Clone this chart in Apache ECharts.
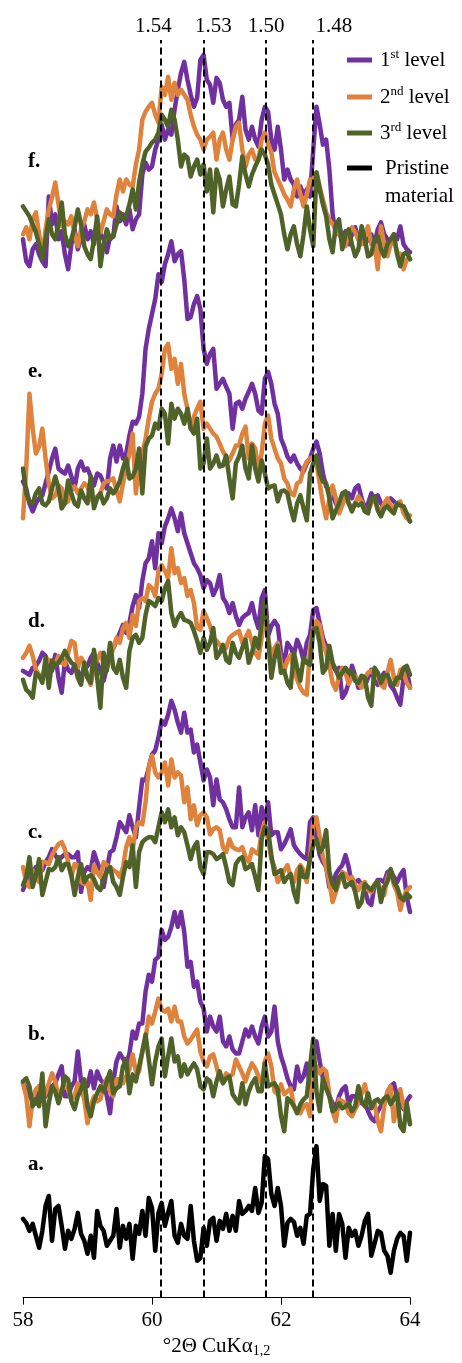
<!DOCTYPE html>
<html>
<head>
<meta charset="utf-8">
<script src="https://cdn.jsdelivr.net/npm/echarts@6/dist/echarts.min.js"></script>
<style>
  html, body { margin: 0; padding: 0; background: #fff; }
  #chart { width: 462px; height: 1363px; }
</style>
</head>
<body>
<div id="chart"></div>
<script>
// sampling grid, 0.05 deg steps from 58 to 64
const twoTheta = [];
for (let i = 0; i <= 120; i++) twoTheta.push(+(58 + i * 0.05).toFixed(2));

const panelLabels = ['a.', 'b.', 'c.', 'd.', 'e.', 'f.'];
const panelOffsets = [22, 160, 384, 590, 777, 1032];
const dSpacings = ['1.54', '1.53', '1.50', '1.48'];
const dLinePos = [60.14, 60.81, 61.76, 62.49];
const dLabelPos = [60.02, 60.95, 61.77, 62.82];
const levelNames = ['1st level', '2nd level', '3rd level'];
const xTicks = [58, 60, 62, 64];

// a. pristine material
const pristine = [57,53,45,52,40,28,45,70,80,35, 67,70,50,27,45,37,47,63,42,35, 22,40,18,65,50,45,30,35,40,67,
  28,50,37,52,17,50,42,65,40,78, 68,25,63,73,50,63,75,40,33,52, 40,37,70,35,15,18,48,30,55,58,
  35,55,47,62,45,60,45,75,62,65, 70,65,88,63,73,120,117,82,70,88, 70,30,53,57,54,40,48,32,60,62,
  107,130,75,92,90,30,62,25,62,52, 18,48,40,45,30,40,55,62,20,32, 45,43,25,20,3,25,37,43,40,15, 43];

// b.
const b1 = [55,49,42,39,35,52,47,42,49,52, 55,64,72,42,42,52,57,87,57,52, 52,67,50,67,59,55,42,25,57,77,
  85,80,74,85,107,100,115,115,147,164, 157,179,182,209,199,202,212,227,212,227, 207,172,177,152,157,137,130,107,122,112,
  107,122,97,92,102,89,85,85,97,109, 102,112,102,95,112,122,102,107,132,97, 82,72,60,52,49,72,57,62,75,52,
  82,97,77,60,52,42,35,30,42,49, 52,34,42,42,37,35,35,27,20,17, 27,32,35,45,52,55,42,35,29,37,42];
const b2 = [55,42,12,39,49,52,37,45,55,65, 57,42,49,52,49,39,42,55,49,39, 15,32,42,37,39,52,60,47,42,59,
  59,55,62,69,84,67,67,87,100,122, 115,127,140,129,127,130,117,132,117,117, 102,95,99,104,109,87,77,72,82,84,
  72,59,57,65,62,64,79,72,65,57, 67,75,70,62,55,77,85,72,47,44, 54,44,47,50,32,27,25,32,34,22,
  67,72,65,70,67,44,27,17,39,37, 35,25,22,29,35,45,54,39,34,35, 17,7,32,47,52,17,32,49,32,25,15];
const b3 = [57,60,52,32,39,32,65,12,35,52, 47,35,47,62,59,37,29,42,49,59, 32,22,37,45,52,47,57,67,45,50,
  52,72,79,45,64,57,72,87,104,79, 54,77,92,100,62,82,100,77,82,62, 74,64,70,75,69,52,49,60,57,42,
  57,67,55,60,62,44,39,35,55,34, 47,55,60,47,47,75,52,54,55,49, 22,7,40,37,32,25,34,39,42,72,
  100,47,27,60,50,42,27,30,35,30, 32,35,27,32,52,37,32,45,30,37, 39,35,40,42,34,39,45,12,7,35,14];

// c.
const c1 = [25,33,38,43,48,46,45,53,58,66, 60,55,58,61,61,58,58,63,23,43, 48,45,63,53,45,28,46,63,65,78,
  93,88,83,100,88,78,108,136,135,148, 161,165,178,195,191,201,215,206,193,183, 203,183,186,163,171,153,135,146,138,110,
  136,116,113,106,96,88,88,128,88,98, 103,85,110,80,108,93,113,80,83,83, 66,71,78,86,70,65,61,58,56,93,
  98,78,60,53,48,28,28,41,46,50, 60,48,30,33,35,30,26,13,10,30, 35,35,33,43,45,38,33,40,45,18,3];
const c2 = [48,33,28,45,38,33,53,53,51,60, 66,71,73,66,53,38,51,50,33,31, 33,15,50,43,38,53,50,48,45,43,
  38,48,68,78,65,88,93,91,113,148, 160,143,138,143,153,130,156,138,143,140, 113,128,96,110,90,100,103,98,81,86,
  88,85,68,63,76,68,66,65,68,58, 53,66,63,61,83,93,75,56,48,33, 38,45,50,38,33,45,50,45,33,58,
  93,98,78,58,48,33,13,23,33,43, 41,36,38,30,25,31,33,25,23,30, 33,25,20,38,45,30,23,5,18,25,28];
const c3 = [30,38,58,28,40,56,20,33,46,45, 48,58,45,51,51,40,20,38,51,33, 38,40,36,28,25,36,43,48,33,28,
  20,38,53,48,70,28,63,73,76,78, 78,73,88,103,93,106,88,98,80,88, 83,70,56,68,73,48,41,63,63,61,
  56,58,61,48,33,30,51,56,58,46, 48,51,38,25,76,88,85,60,41,43, 45,33,38,41,23,13,48,38,38,56,
  70,76,63,68,85,43,31,25,38,41, 28,31,33,23,8,13,31,28,25,30, 33,13,28,33,46,33,28,18,15,21,18];

// d.
const d1 = [39,37,35,42,44,49,57,54,44,39, 55,32,17,49,40,37,45,39,32,40, 44,52,57,47,39,29,42,55,62,69,
  77,85,77,87,104,115,102,129,147,152, 169,142,177,167,184,192,202,192,179,197, 177,167,157,147,142,135,122,130,127,115,
  122,135,112,107,97,107,94,85,92,95, 97,107,92,82,112,120,74,84,89,84, 57,47,67,62,55,70,62,49,67,75,
  100,102,87,72,64,55,44,39,42,12, 17,27,44,34,22,27,24,32,40,29, 25,32,37,35,24,20,12,5,32,40,22];
const d2 = [52,57,64,54,40,35,32,45,50,49, 45,54,47,45,57,69,67,42,52,47, 32,25,42,50,57,47,42,50,62,72,
  67,82,87,72,95,84,109,112,109,125, 122,114,139,145,139,132,162,137,142,127, 132,114,120,107,82,80,99,92,84,72,
  69,65,64,62,72,75,77,79,67,72, 79,67,57,52,72,95,72,54,62,67, 47,39,50,55,40,30,22,17,15,62,
  82,89,85,67,57,44,27,20,34,42, 37,26,32,34,27,22,32,37,39,35, 34,25,22,37,50,32,25,40,37,27,22];
const d3 = [30,20,17,12,37,34,27,52,22,49, 45,47,52,59,52,47,45,32,25,47, 32,27,60,32,2,57,39,67,42,37,
  50,32,22,59,72,75,67,72,95,109, 107,104,112,109,122,129,97,84,92,97, 90,89,87,79,69,57,72,60,67,82,
  52,57,65,50,47,67,57,52,62,70, 47,57,72,62,87,109,72,32,52,64, 37,39,27,22,57,42,29,52,47,45,
  80,82,67,37,42,64,47,40,32,37, 42,37,39,29,27,34,32,12,4,42, 37,27,34,35,27,25,32,32,42,44,35];

// e.
const e1 = [42,35,20,12,20,25,28,40,52,65, 75,55,52,50,58,47,35,55,62,53, 55,47,38,50,48,40,35,65,78,62,
  78,65,70,88,102,100,107,130,175,195, 210,225,250,242,260,270,283,263,270,273, 245,205,207,220,228,215,175,160,170,175,
  135,140,145,137,130,95,120,122,115,125, 132,140,130,113,110,145,152,140,120,110, 85,77,67,62,68,60,55,52,60,65,
  75,82,70,50,37,33,28,20,13,20, 25,30,25,35,38,25,15,20,30,25, 28,20,15,20,25,22,18,20,13,7,2];
const e2 = [5,55,130,95,70,77,95,65,40,25, 28,38,35,20,22,33,37,30,35,40, 37,25,20,27,30,40,42,43,45,33,
  22,40,55,70,90,30,60,70,85,105, 122,130,135,150,175,180,155,165,140,160, 130,115,95,107,115,122,95,100,95,90,
  87,80,72,67,63,70,78,78,90,97, 65,80,75,55,70,100,108,85,75,65, 60,45,40,30,28,40,42,55,62,65,
  67,60,40,20,5,25,38,25,10,18, 28,20,15,20,27,22,12,13,20,25, 15,12,20,25,18,15,20,22,10,5,8];
const e3 = [55,30,22,20,30,35,20,18,22,35, 47,35,15,20,43,30,20,17,33,25, 20,47,15,25,30,20,25,35,30,35,
  42,55,65,45,47,55,75,30,77,85, 88,100,95,115,110,80,120,105,115,110, 100,115,95,90,105,55,60,85,55,60,
  68,57,58,68,45,25,60,67,78,55, 45,78,55,42,63,50,35,37,38,22, 32,33,30,15,3,20,28,15,3,50,
  60,68,50,42,40,25,5,13,20,30, 32,20,12,20,18,20,12,10,25,27, 13,7,15,17,13,10,20,18,17,10,2];

// f.
const f1 = [30,8,3,20,25,15,8,3,73,45, 55,30,38,15,0,25,40,20,32,45, 30,38,25,45,35,30,17,33,33,63,
  48,55,45,60,40,50,55,95,107,100, 103,120,130,145,130,140,135,160,180,197, 208,190,175,163,172,210,215,190,185,167,
  192,187,170,163,167,130,145,150,173,140, 130,143,130,123,150,163,158,130,120,143, 120,90,100,90,85,73,83,75,80,73,
  120,163,145,125,130,100,55,35,45,30, 38,25,35,42,30,38,25,30,35,25, 40,47,35,30,25,35,30,43,25,20,17];
const f2 = [35,42,30,50,57,35,13,40,60,72, 87,65,43,48,45,53,35,23,40,48, 60,55,67,50,37,48,60,55,53,75,
  90,78,90,85,83,105,120,150,158,163, 167,155,147,183,175,193,170,187,175,180, 175,170,155,143,135,130,120,130,133,137,
  110,130,137,120,110,130,143,147,120,103, 115,120,110,110,130,137,125,117,97,90, 83,75,70,63,80,90,75,63,75,90,
  90,97,83,70,57,50,45,43,35,30, 23,35,42,37,30,25,35,43,25,25, 0,43,25,13,25,30,17,15,0,10,10];
const f3 = [63,58,53,45,37,25,10,30,50,35, 30,45,67,35,23,30,42,60,45,23, 15,10,30,53,3,25,40,30,33,45,
  57,50,53,65,80,60,87,105,118,122, 127,130,137,155,150,143,160,150,130,103, 115,112,93,103,110,95,105,78,100,57,
  100,90,63,80,93,65,63,85,113,95, 83,95,103,110,120,115,105,85,75,65, 55,35,20,35,43,25,13,35,63,40,
  23,97,80,65,53,30,17,45,50,20, 35,40,25,13,20,43,30,13,15,30, 33,20,13,25,30,35,15,3,15,17,10];

const levelColors = ['#7030A0', '#DE823C', '#4F6228'];
const panels = [[b1, b2, b3], [c1, c2, c3], [d1, d2, d3], [e1, e2, e3], [f1, f2, f3]];
const serif = '"Liberation Serif", "Times New Roman", serif';

function shifted(values, offset) {
  return values.map((v, i) => [twoTheta[i], v + offset]);
}

function lineSeries(name, values, offset, color) {
  return {
    name: name,
    type: 'line',
    data: shifted(values, offset),
    symbol: 'none',
    lineStyle: { color: color, width: 4.5, join: 'round', cap: 'round' },
    silent: true
  };
}

const series = [lineSeries('Pristine material', pristine, panelOffsets[0], '#000')];
panels.forEach((trio, p) => {
  trio.forEach((vals, k) => {
    series.push(lineSeries(levelNames[k], vals, panelOffsets[p + 1], levelColors[k]));
  });
});

// dashed d-spacing markers
series.push({
  type: 'line',
  data: [],
  z: 5,
  markLine: {
    silent: true,
    symbol: 'none',
    animation: false,
    label: { show: false },
    lineStyle: { color: '#000', type: [7, 4], width: 2 },
    data: dLinePos.map(v => ({ xAxis: v }))
  }
});

const chart = echarts.init(document.getElementById('chart'));
chart.setOption({
  animation: false,
  backgroundColor: '#fff',
  grid: { left: 23, right: 52, top: 40, bottom: 61 },
  xAxis: {
    type: 'value',
    min: xTicks[0],
    max: xTicks[xTicks.length - 1],
    interval: 2,
    axisLine: { lineStyle: { color: '#000', width: 1 } },
    axisTick: { length: 7, lineStyle: { color: '#000' } },
    axisLabel: { color: '#000', fontFamily: serif, fontSize: 21, margin: 12 },
    splitLine: { show: false },
    name: '{n|°2Θ CuKα}{s|1,2}',
    nameLocation: 'middle',
    nameGap: 34,
    nameTextStyle: {
      rich: {
        n: { fontFamily: serif, fontSize: 21, color: '#000', lineHeight: 24 },
        s: { fontFamily: serif, fontSize: 14, color: '#000', lineHeight: 12, verticalAlign: 'bottom' }
      }
    }
  },
  yAxis: { type: 'value', min: 0, max: 1262, show: false },
  series: series
});

// panel tags, d-spacing labels and legend
const panelLabelY = [1165, 1035, 833, 622, 372, 162];
const legendY = [60, 97, 133, 168];
const richLevel = {
  n: { fontFamily: serif, fontSize: 21, fill: '#000', lineHeight: 24 },
  s: { fontFamily: serif, fontSize: 13, fill: '#000', lineHeight: 14, verticalAlign: 'top' }
};
const supText = ['st', 'nd', 'rd'];

const graphics = [];
panelLabels.forEach((t, i) => {
  graphics.push({
    type: 'text', id: 'panel' + i, x: 28, y: panelLabelY[i],
    style: { text: t, font: 'bold 21px ' + serif, fill: '#000', verticalAlign: 'middle' }
  });
});
dSpacings.forEach((t, i) => {
  graphics.push({
    type: 'text', id: 'd' + i,
    x: chart.convertToPixel({ xAxisIndex: 0 }, dLabelPos[i]), y: 26,
    style: { text: t, font: '21px ' + serif, fill: '#000', align: 'center', verticalAlign: 'middle' }
  });
});
['#7030A0', '#DE823C', '#4F6228', '#000'].forEach((c, i) => {
  graphics.push({
    type: 'rect', id: 'icon' + i,
    shape: { x: 347, y: legendY[i] - 2.5, width: 25, height: 5 },
    style: { fill: c }
  });
});
levelNames.forEach((name, i) => {
  graphics.push({
    type: 'text', id: 'leg' + i, x: 380, y: legendY[i],
    style: {
      text: '{n|' + (i + 1) + '}{s|' + supText[i] + '}{n| level}',
      rich: richLevel, verticalAlign: 'middle'
    }
  });
});
graphics.push({
  type: 'text', id: 'leg3', x: 385, y: legendY[3] - 14,
  style: { text: 'Pristine\nmaterial', font: '21px ' + serif, fill: '#000', lineHeight: 28, verticalAlign: 'top' }
});

chart.setOption({ graphic: graphics });
</script>
</body>
</html>
